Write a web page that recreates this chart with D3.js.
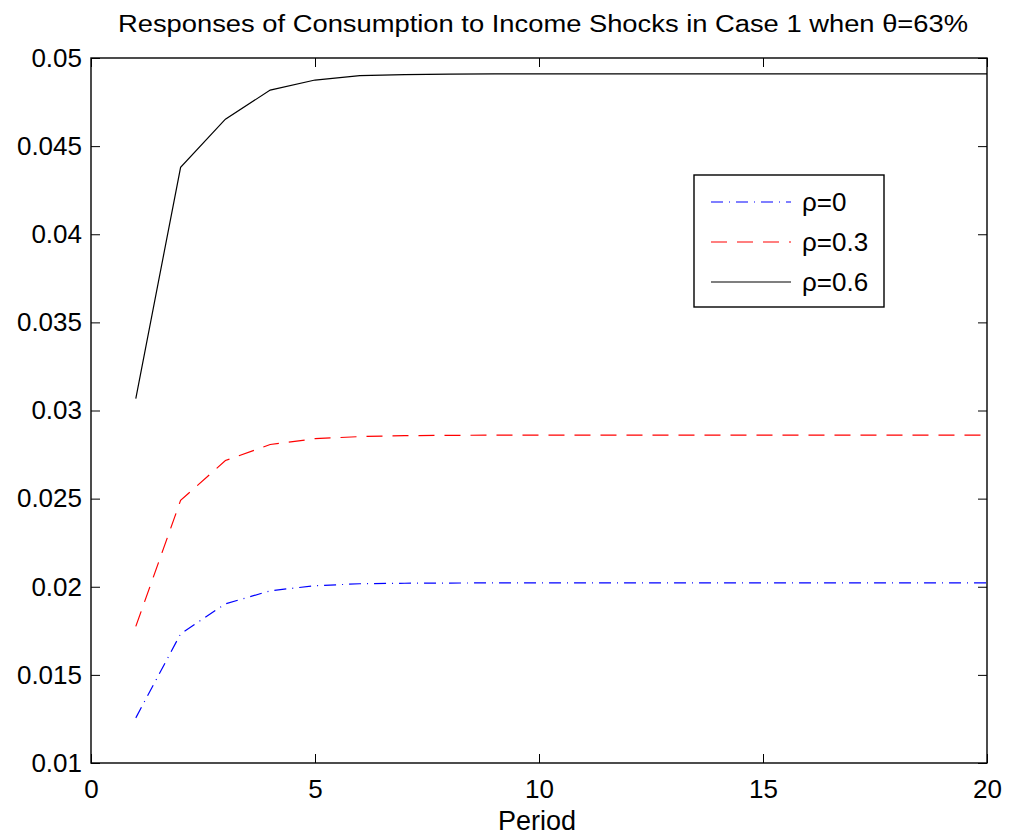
<!DOCTYPE html>
<html>
<head>
<meta charset="utf-8">
<title></title>
<script src="https://d3js.org/d3.v7.min.js"></script>
<style>
  body { margin: 0; background: #fff; }
  text { font-family: "Liberation Sans", Arial, sans-serif; }
</style>
</head>
<body>
<div class="main_div"></div>
<script>

// Data
var periods = [1,2,3,4,5,6,7,8,9,10,11,12,13,14,15,16,17,18,19,20];
var rho0  = [0.01256,0.01733,0.01903,0.01977,0.02006,0.02017,0.0202,0.02021,0.02022,0.02022,0.02022,0.02022,0.02022,0.02022,0.02022,0.02022,0.02022,0.02022,0.02022,0.02022];
var rho03 = [0.01775,0.0249,0.02716,0.02807,0.0284,0.02852,0.02857,0.02859,0.0286,0.0286,0.0286,0.0286,0.0286,0.0286,0.0286,0.0286,0.0286,0.0286,0.0286,0.0286];
var rho06 = [0.03068,0.0438,0.04653,0.04818,0.04875,0.049,0.04906,0.04909,0.0491,0.0491,0.0491,0.0491,0.0491,0.0491,0.0491,0.0491,0.0491,0.0491,0.0491,0.0491];
var seriesNames = ["\u03c1=0", "\u03c1=0.3", "\u03c1=0.6"];
var xTicks = [0,5,10,15,20];
var yTicks = [0.01,0.015,0.02,0.025,0.03,0.035,0.04,0.045,0.05];

var series = [
  {name: seriesNames[0], values: rho0,  color: "#0000ff", dash: "12,6,1,6"},
  {name: seriesNames[1], values: rho03, color: "#ff0000", dash: "16,10"},
  {name: seriesNames[2], values: rho06, color: "#000000", dash: null}
];

// Svg
var W = 1010, H = 837;
var pLeft = 91, pTop = 58, pRight = 987, pBottom = 763;
var svg = d3.select(".main_div").append("svg").attr("width", W).attr("height", H);

var x = d3.scaleLinear().domain([0,20]).range([pLeft,pRight]);
var y = d3.scaleLinear().domain([0.01,0.05]).range([pBottom,pTop]);

// Lines
var line = d3.line().x(function(d,i){return x(periods[i]);}).y(function(d){return y(d);});
series.forEach(function(s){
  svg.append("path").attr("d", line(s.values))
    .attr("fill","none").attr("stroke", s.color).attr("stroke-width", 1.2)
    .attr("stroke-dasharray", s.dash);
});

// Axes (ticks inward, on all sides)
var tl = 9;
var fmt = function(d){ return String(+d.toFixed(3)); };
var gB = svg.append("g").attr("transform","translate(0,"+pBottom+")")
  .call(d3.axisBottom(x).tickValues(xTicks).tickSizeInner(-tl).tickSizeOuter(0));
var gT = svg.append("g").attr("transform","translate(0,"+pTop+")")
  .call(d3.axisTop(x).tickValues(xTicks).tickSizeInner(-tl).tickSizeOuter(0).tickFormat(""));
var gL = svg.append("g").attr("transform","translate("+pLeft+",0)")
  .call(d3.axisLeft(y).tickValues(yTicks).tickSizeInner(-tl).tickSizeOuter(0).tickPadding(9).tickFormat(fmt));
var gR = svg.append("g").attr("transform","translate("+pRight+",0)")
  .call(d3.axisRight(y).tickValues(yTicks).tickSizeInner(-tl).tickSizeOuter(0).tickFormat(""));

[gB,gT,gL,gR].forEach(function(g){
  g.select(".domain").remove();
  g.selectAll(".tick line").attr("stroke","#000").attr("stroke-width",1);
  g.selectAll(".tick text").attr("fill","#000").style("font-size","26px")
    .style("font-family","'Liberation Sans', Arial, sans-serif");
});
gB.selectAll(".tick text").attr("y",35).attr("dy",0);

svg.append("rect").attr("x",pLeft).attr("y",pTop).attr("width",pRight-pLeft).attr("height",pBottom-pTop)
  .attr("fill","none").attr("stroke","#000").attr("stroke-width",1.4);

// Title and label
svg.append("text").attr("x",118).attr("y",32)
  .attr("textLength",850).attr("lengthAdjust","spacingAndGlyphs")
  .style("font-size","23px").text("Responses of Consumption to Income Shocks in Case 1 when \u03b8=63%");
svg.append("text").attr("x",(pLeft+pRight)/2 - 2).attr("y",830).attr("text-anchor","middle")
  .style("font-size","27px").text("Period");

// Legend
var lg = svg.append("g").attr("transform","translate(694,175)");
lg.append("rect").attr("width",190).attr("height",132).attr("fill","#fff").attr("stroke","#000").attr("stroke-width",1.4);
series.forEach(function(s,i){
  var yy = 27 + i*40;
  lg.append("line").attr("x1",17).attr("x2",97).attr("y1",yy).attr("y2",yy)
    .attr("stroke",s.color).attr("stroke-width",1.2).attr("stroke-dasharray",s.dash);
  lg.append("text").attr("x",108).attr("y",yy+9).style("font-size","26px").text(s.name);
});

</script>
</body>
</html>
